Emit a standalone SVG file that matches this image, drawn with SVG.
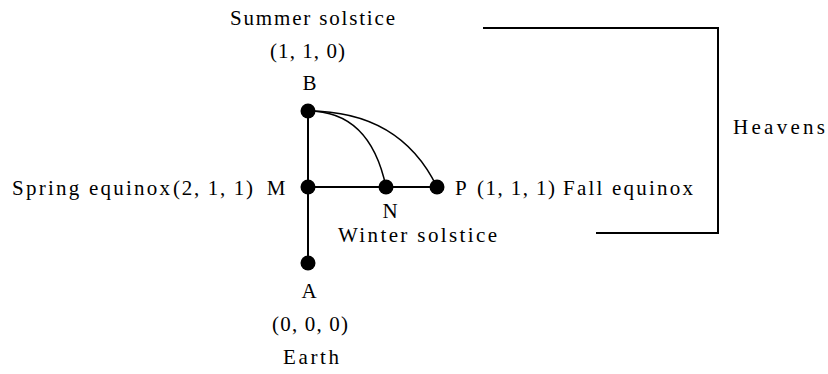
<svg xmlns="http://www.w3.org/2000/svg" width="828" height="374" viewBox="0 0 828 374">
<style>
text{font-family:"Liberation Serif","DejaVu Serif",serif;font-size:21px;fill:#000}
.ln{stroke:#000;stroke-width:2;fill:none}
.cv{stroke:#000;stroke-width:1.5;fill:none}
.dot{fill:#000}
</style>
<rect width="828" height="374" fill="#fff"/>
<g id="connectors">
<line class="ln" x1="308" y1="111" x2="308" y2="263"/>
<line class="ln" x1="308" y1="187" x2="437" y2="187"/>
<path class="cv" d="M308,111 Q370,111 386,187"/>
<path class="cv" d="M308,111 Q400,111 437,187"/>
</g>
<g id="bracket">
<polyline class="ln" points="483,28 718,28 718,233 596,233"/>
<text x="733" y="134" textLength="92" lengthAdjust="spacing">Heavens</text>
</g>
<g id="node-B">
<circle class="dot" cx="308" cy="111" r="7.5"/>
<text x="230" y="25" textLength="165" lengthAdjust="spacing">Summer solstice</text>
<text x="270" y="58" textLength="75" lengthAdjust="spacing">(1, 1, 0)</text>
<text x="309.5" y="90" text-anchor="middle">B</text>
</g>
<g id="node-M">
<circle class="dot" cx="308" cy="187" r="7.5"/>
<text x="12" y="195" textLength="158" lengthAdjust="spacing">Spring equinox</text>
<text x="173" y="195" textLength="80" lengthAdjust="spacing">(2, 1, 1)</text>
<text x="276" y="195" text-anchor="middle">M</text>
</g>
<g id="node-N">
<circle class="dot" cx="386" cy="187" r="7.5"/>
<text x="390" y="218" text-anchor="middle">N</text>
<text x="338" y="242" textLength="159" lengthAdjust="spacing">Winter solstice</text>
</g>
<g id="node-P">
<circle class="dot" cx="437" cy="187" r="7.5"/>
<text x="455" y="195">P</text>
<text x="477" y="195" textLength="78" lengthAdjust="spacing">(1, 1, 1)</text>
<text x="563" y="195" textLength="130" lengthAdjust="spacing">Fall equinox</text>
</g>
<g id="node-A">
<circle class="dot" cx="308" cy="263" r="7.5"/>
<text x="309" y="298" text-anchor="middle">A</text>
<text x="272" y="331" textLength="76" lengthAdjust="spacing">(0, 0, 0)</text>
<text x="283" y="364" textLength="56" lengthAdjust="spacing">Earth</text>
</g>
</svg>
